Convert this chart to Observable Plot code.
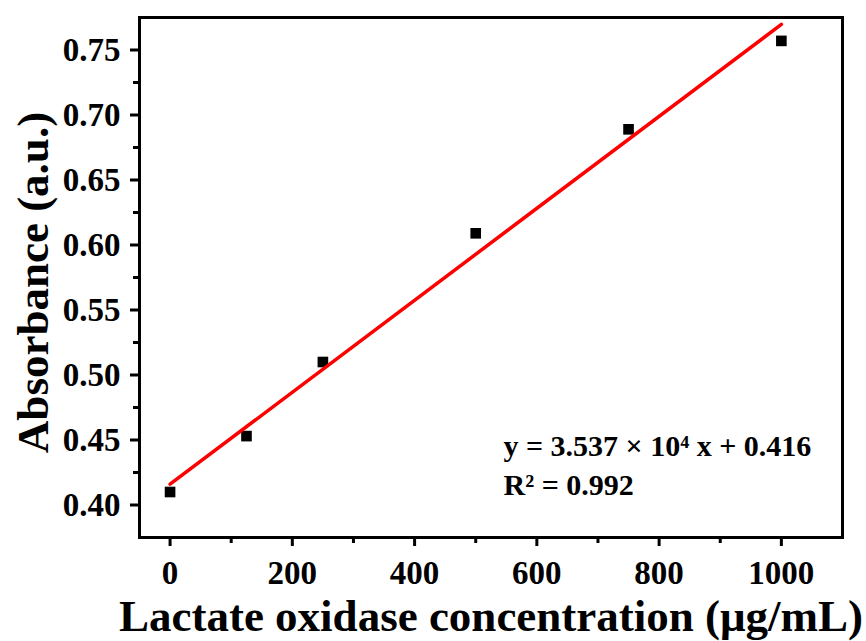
<!DOCTYPE html>
<html>
<head>
<meta charset="utf-8">
<script src="https://cdn.jsdelivr.net/npm/d3@7"></script>
<script src="https://cdn.jsdelivr.net/npm/@observablehq/plot@0.6"></script>
<style>
  html, body { margin: 0; padding: 0; background: #fff; }
</style>
</head>
<body>
<div id="chart"></div>
<script>
// Calibration measurements: absorbance vs. lactate oxidase concentration
const concentration = [0, 125, 250, 500, 750, 1000];      // µg/mL
const absorbance = [0.410, 0.453, 0.510, 0.609, 0.689, 0.757];

// Linear fit reported for the calibration
const fitSlope = 3.537e-4;
const fitIntercept = 0.416;
const fitRange = [0, 1000];
const rSquared = 0.992;

// Axis ticks
const xTicks = [0, 200, 400, 600, 800, 1000];
const xMinorTicks = [100, 300, 500, 700, 900];
const yTicks = [0.40, 0.45, 0.50, 0.55, 0.60, 0.65, 0.70, 0.75];
const yMinorTicks = [0.425, 0.475, 0.525, 0.575, 0.625, 0.675, 0.725];

const xTitle = "Lactate oxidase concentration (\u03bcg/mL)";
const yTitle = "Absorbance (a.u.)";
const equationLabel = `y = ${(fitSlope * 1e4).toFixed(3)} \u00d7 10\u2074 x + ${fitIntercept.toFixed(3)}`;
const r2Label = `R\u00b2 = ${rSquared.toFixed(3)}`;

const points = concentration.map((c, i) => ({c, a: absorbance[i]}));
const fitLine = fitRange.map(c => ({c, a: fitSlope * c + fitIntercept}));

const serif = "'Liberation Serif', 'Times New Roman', Times, serif";

const chart = Plot.plot({
  width: 866,
  height: 641,
  marginLeft: 139,
  marginRight: 24,
  marginTop: 17,
  marginBottom: 104,
  style: {fontFamily: serif, fontWeight: "bold", background: "white", color: "black"},
  x: {domain: [-50, 1100], label: null},
  y: {domain: [0.375, 0.775], label: null},
  marks: [
    Plot.axisX(xTicks, {tickSize: 9, tickPadding: 14, strokeWidth: 3, fontSize: 33, tickFormat: d3.format("d"), label: null}),
    Plot.axisX(xMinorTicks, {tickSize: 6, strokeWidth: 3, tickFormat: () => "", label: null}),
    Plot.axisY(yTicks, {tickSize: 9, tickPadding: 10, strokeWidth: 3, fontSize: 33, tickFormat: d3.format(".2f"), label: null}),
    Plot.axisY(yMinorTicks, {tickSize: 6, strokeWidth: 3, tickFormat: () => "", label: null}),
    Plot.frame({strokeWidth: 3, strokeLinecap: "square"}),
    Plot.dot(points, {x: "c", y: "a", symbol: "square", r: 6, fill: "black", stroke: null}),
    Plot.line(fitLine, {x: "c", y: "a", stroke: "#ff0000", strokeWidth: 3.5}),
    Plot.text([`${equationLabel}\n${r2Label}`], {
      frameAnchor: "bottom-left",
      dx: 364,
      dy: -43,
      fontSize: 30,
      textAnchor: "start",
      lineAnchor: "bottom",
      lineHeight: 1.27
    }),
    Plot.text([xTitle], {
      frameAnchor: "bottom",
      dy: 93,
      fontSize: 45,
      textAnchor: "middle",
      lineAnchor: "bottom"
    }),
    Plot.text([yTitle], {
      frameAnchor: "left",
      dx: -106,
      dy: 5,
      rotate: -90,
      fontSize: 45,
      textAnchor: "middle",
      lineAnchor: "middle"
    })
  ]
});

document.getElementById("chart").appendChild(chart);
</script>
</body>
</html>
